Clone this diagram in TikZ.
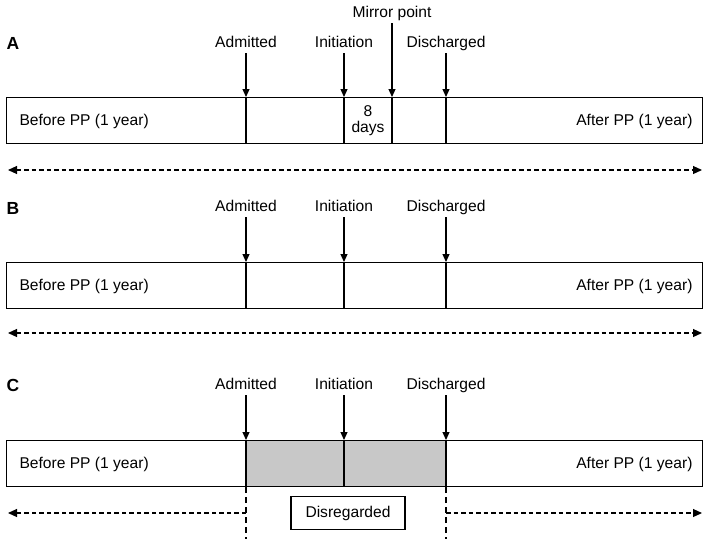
\documentclass[tikz,border=0pt]{standalone}
\usepackage{fontspec}
\setmainfont{Liberation Sans}
\definecolor{shadegray}{RGB}{200, 200, 200}
\usetikzlibrary{arrows.meta, positioning, calc}

\begin{document}
\begin{tikzpicture}[x=1pt, y=-1pt, line width=1.1pt,
  lbl/.style={font=\fontsize{15.6}{18}\selectfont, text height=11.5pt, text depth=3.5pt, inner sep=2pt},
  panel/.style={font=\fontsize{17.5}{20}\selectfont\bfseries},
  bar/.style={draw, minimum width=696pt, minimum height=46pt, anchor=north west, inner sep=0pt},
  tick/.style={-{Triangle[length=8pt, width=7pt]}},
  span/.style={dash pattern=on 4.5pt off 3pt, {Triangle[length=9pt, width=8pt]}-{Triangle[length=9pt, width=8pt]}},
  half/.style={dash pattern=on 4.5pt off 3pt, -{Triangle[length=9pt, width=8pt]}}]
  \useasboundingbox (0,0) rectangle (709,542);

  % Panel A
  \node[panel] (letA) at (13,43) {A};
  \node[bar] (barA) at (6,97) {};
  \node[lbl, anchor=west] (befA) at (17,121) {Before PP (1 year)};
  \node[lbl, anchor=east] (aftA) at (695,121) {After PP (1 year)};
  \node[lbl] (admA) at (246,43) {Admitted};
  \node[lbl] (iniA) at (344,43) {Initiation};
  \node[lbl] (mirA) at (392,13) {Mirror point};
  \node[lbl] (disA) at (446,43) {Discharged};
  \foreach \n in {admA, iniA, mirA, disA} {
    \draw[tick] (\n) -- (\n |- barA.north);
    \draw (\n |- barA.north) -- (\n |- barA.south);
  }
  \node[font=\fontsize{15.6}{16}\selectfont, align=center] (dayA) at (368,121) {8\\days};
  \coordinate (spanAl) at (8,170);
  \coordinate (spanAr) at (702,170);
  \draw[span] (spanAl) -- (spanAr);

  % Panel B
  \node[panel] (letB) at (13,208) {B};
  \node[bar] (barB) at (6,262) {};
  \node[lbl, anchor=west] (befB) at (17,286) {Before PP (1 year)};
  \node[lbl, anchor=east] (aftB) at (695,286) {After PP (1 year)};
  \node[lbl] (admB) at (246,207) {Admitted};
  \node[lbl] (iniB) at (344,207) {Initiation};
  \node[lbl] (disB) at (446,207) {Discharged};
  \foreach \n in {admB, iniB, disB} {
    \draw[tick] (\n) -- (\n |- barB.north);
    \draw (\n |- barB.north) -- (\n |- barB.south);
  }
  \coordinate (spanBl) at (8,333);
  \coordinate (spanBr) at (702,333);
  \draw[span] (spanBl) -- (spanBr);

  % Panel C
  \node[panel] (letC) at (13,385) {C};
  \fill[shadegray] (246,440) rectangle (446,486);
  \node[bar] (barC) at (6,440) {};
  \node[lbl, anchor=west] (befC) at (17,464) {Before PP (1 year)};
  \node[lbl, anchor=east] (aftC) at (695,464) {After PP (1 year)};
  \node[lbl] (admC) at (246,385) {Admitted};
  \node[lbl] (iniC) at (344,385) {Initiation};
  \node[lbl] (disC) at (446,385) {Discharged};
  \foreach \n in {admC, iniC, disC} {
    \draw[tick] (\n) -- (\n |- barC.north);
    \draw (\n |- barC.north) -- (\n |- barC.south);
  }
  \draw[dash pattern=on 6pt off 4pt] (admC |- barC.south) -- ++(0,52);
  \draw[dash pattern=on 6pt off 4pt] (disC |- barC.south) -- ++(0,52);
  \coordinate (spanCl) at (8,513);
  \coordinate (spanCr) at (702,513);
  \draw[half] (spanCl -| admC) -- (spanCl);
  \draw[half] (spanCr -| disC) -- (spanCr);
  \node[lbl, draw, minimum width=114pt, minimum height=33pt] (disrC) at (348,513) {Disregarded};
\end{tikzpicture}
\end{document}
